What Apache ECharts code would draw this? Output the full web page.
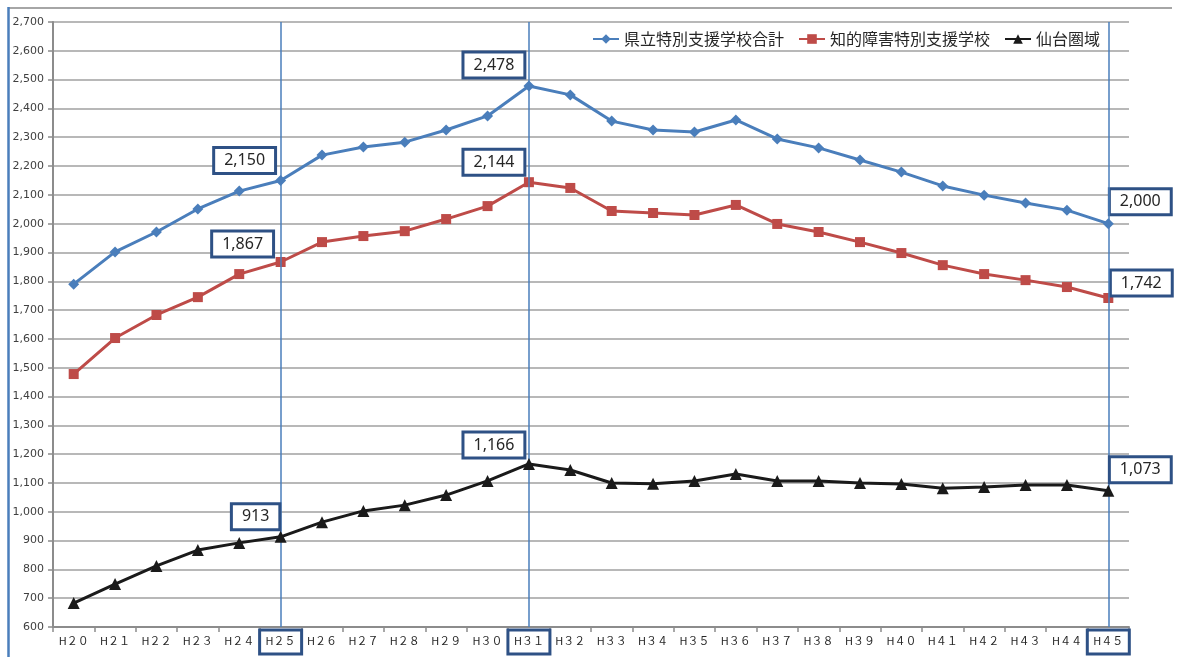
<!DOCTYPE html>
<html>
<head>
<meta charset="utf-8">
<script src="https://cdn.jsdelivr.net/npm/echarts@6/dist/echarts.min.js"></script>
<style>
  html, body { margin: 0; padding: 0; background: #fff; }
  #chart { width: 1178px; height: 657px; }
</style>
</head>
<body>
<div id="chart"></div>
<script>
// Fiscal years (Heisei 20 – 45)
const years = ['H２０','H２１','H２２','H２３','H２４','H２５','H２６','H２７','H２８','H２９',
  'H３０','H３１','H３２','H３３','H３４','H３５','H３６','H３７','H３８','H３９',
  'H４０','H４１','H４２','H４３','H４４','H４５'];

// 県立特別支援学校合計
const totalSchools = [1790, 1902, 1971, 2051, 2113, 2150, 2238, 2266, 2283, 2325,
  2374, 2478, 2447, 2356, 2325, 2318, 2360, 2294, 2263, 2221,
  2179, 2131, 2099, 2072, 2047, 2000];

// 知的障害特別支援学校
const intellectual = [1478, 1603, 1683, 1745, 1825, 1867, 1936, 1957, 1974, 2016,
  2061, 2144, 2124, 2044, 2037, 2030, 2065, 1999, 1971, 1936,
  1898, 1856, 1825, 1804, 1780, 1742];

// 仙台圏域
const sendaiArea = [683, 749, 812, 867, 892, 913, 964, 1003, 1023, 1058,
  1107, 1166, 1145, 1100, 1097, 1107, 1131, 1107, 1107, 1100,
  1096, 1082, 1086, 1093, 1093, 1073];

const seriesNames = ['県立特別支援学校合計', '知的障害特別支援学校', '仙台圏域'];

// Highlighted years (boxed labels and vertical guides)
const markedYears = ['H２５', 'H３１', 'H４５'];

// Callout placement for highlighted points: [index, dx, dy] per series
const calloutOffsets = [
  [[5, -36, -20], [11, -35, -21], [25, 32, -22]],
  [[5, -38, -18], [11, -35, -20], [25, 33, -15]],
  [[5, -25, -20], [11, -35, -19], [25, 32, -21]]
];

const fmt = v => String(v).replace(/\B(?=(\d{3})+(?!\d))/g, ',');

function withCallouts(values, offsets) {
  return values.map((v, i) => {
    const o = offsets.find(e => e[0] === i);
    if (!o) return v;
    return {
      value: v,
      label: {
        show: true,
        position: 'inside',
        offset: [o[1], o[2]],
        formatter: p => fmt(p.value),
        fontFamily: 'Noto Sans',
        fontSize: 16,
        color: '#262626',
        backgroundColor: '#ffffff',
        borderColor: '#2E5185',
        borderWidth: 3,
        padding: [4, 9, 3, 9]
      }
    };
  });
}

const chart = echarts.init(document.getElementById('chart'), null, { renderer: 'canvas' });

const colors = ['#4A7EBB', '#BE4B48', '#1A1A1A'];
const symbols = ['diamond', 'rect', 'triangle'];
const symbolSizes = [11, 10, 12];
const datasets = [totalSchools, intellectual, sendaiArea];

const series = datasets.map((vals, k) => ({
  name: seriesNames[k],
  type: 'line',
  data: withCallouts(vals, calloutOffsets[k]),
  symbol: symbols[k],
  symbolSize: symbolSizes[k],
  color: colors[k],
  lineStyle: { width: 3, color: colors[k] },
  itemStyle: { color: colors[k] },
  z: 3 + k,
  animation: false,
  label: { show: false }
}));

// vertical guide lines at the highlighted years
series[0].markLine = {
  silent: true,
  symbol: 'none',
  label: { show: false },
  lineStyle: { color: '#4A7EBB', width: 1.5, type: 'solid' },
  data: markedYears.map(y => ({ xAxis: y }))
};

chart.setOption({
  animation: false,
  backgroundColor: '#ffffff',
  grid: { left: 53, right: 49, top: 22, bottom: 30, containLabel: false },
  legend: {
    data: seriesNames,
    right: 76,
    top: 29,
    itemWidth: 26,
    itemHeight: 12,
    itemGap: 14,
    backgroundColor: '#ffffff',
    padding: [2, 2, 2, 2],
    textStyle: { fontFamily: 'Noto Sans CJK JP', fontSize: 16, color: '#262626' }
  },
  xAxis: {
    type: 'category',
    data: years,
    boundaryGap: true,
    axisLine: { lineStyle: { color: '#8C8C8C', width: 2 } },
    axisTick: { show: true, length: 5, lineStyle: { color: '#8C8C8C', width: 1.5 } },
    axisLabel: {
      interval: 0,
      margin: 3,
      formatter: v => (markedYears.includes(v) ? '{b|' + v + '}' : '{n|' + v + '}'),
      rich: {
        n: {
          fontFamily: 'Noto Sans CJK JP', fontSize: 11, color: '#262626',
          padding: [5, 6, 8, 6], borderWidth: 3, borderColor: 'rgba(0,0,0,0)'
        },
        b: {
          fontFamily: 'Noto Sans CJK JP', fontSize: 11, color: '#262626',
          padding: [5, 6, 8, 6], borderWidth: 3, borderColor: '#2E5185'
        }
      }
    },
    splitLine: { show: false }
  },
  yAxis: {
    type: 'value',
    min: 600,
    max: 2700,
    interval: 100,
    axisLine: { show: true, lineStyle: { color: '#8C8C8C', width: 2 } },
    axisTick: { show: true, length: 5, lineStyle: { color: '#8C8C8C', width: 1.5 } },
    axisLabel: {
      margin: 9,
      formatter: v => fmt(v),
      fontFamily: 'DejaVu Sans',
      fontSize: 11,
      color: '#404040'
    },
    splitLine: { show: true, lineStyle: { color: '#A0A0A0', width: 1.5 } }
  },
  graphic: [
    { type: 'line', shape: { x1: 8, y1: 8, x2: 1172, y2: 8 },
      style: { stroke: '#A6A6A6', lineWidth: 2 }, z: 0 },
    { type: 'line', shape: { x1: 8.5, y1: 7, x2: 8.5, y2: 657 },
      style: { stroke: '#4A7EBB', lineWidth: 2.5 }, z: 0 }
  ],
  series: series
});
</script>
</body>
</html>
